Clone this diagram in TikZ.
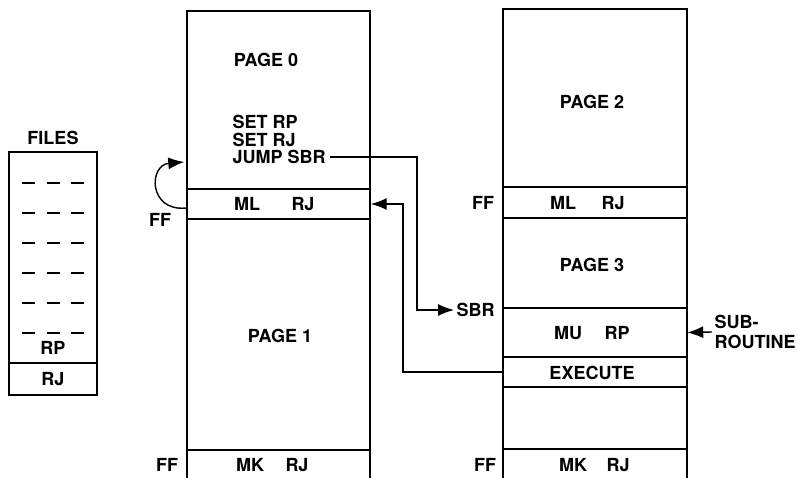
\documentclass[tikz,border=0pt]{standalone}
\usepackage{fontspec}
\setsansfont{TeX Gyre Heros}
\usetikzlibrary{positioning, arrows.meta, calc}

\begin{document}
\begin{tikzpicture}[x=1pt, y=-1pt, line width=1.4pt, inner sep=2pt,
  font=\sffamily\bfseries\fontsize{18}{17}\selectfont,
  flow/.style={-{Latex[length=16pt,width=12pt]}},
  slot/.style={minimum width=183pt, inner sep=0pt}]
  \useasboundingbox (0,0) rectangle (798,478);
  % files
  \draw (9,152) rectangle (97,395);
  \draw (9,363) -- (97,363);
  \foreach \y in {183,213,...,333}
    \foreach \x in {22,47,71} \draw (\x,\y) -- ++(13,0);
  \node (files) at (53,138) {FILES};
  \node (filesrp) at (53,348) {RP};
  \node (filesrj) at (53,379) {RJ};
  % pages 0 and 1
  \draw (187,478) -- (187,11) -- (370,11) -- (370,478);
  \foreach \y in {189,219,450} \draw (187,\y) -- (370,\y);
  \node[slot, minimum height=30pt] (mlA) at (278.5,204) {};
  \node (page0) at (266,60) {PAGE 0};
  \node[anchor=west, inner sep=1pt] (setrp) at (231,122) {SET RP};
  \node[anchor=west, inner sep=1pt] (setrj) at (231,139.5) {SET RJ};
  \node[anchor=west, inner sep=1pt] (jump) at (231,157) {JUMP SBR};
  \node (mlAl) at (247,204) {ML};
  \node (mlAr) at (303,204) {RJ};
  \node (ffA) at (160,220) {FF};
  \node (page1) at (280,336) {PAGE 1};
  \node (ffB) at (167,465) {FF};
  \node (mkAl) at (250,465) {MK};
  \node (mkAr) at (297,465) {RJ};
  % pages 2 and 3
  \draw (503,478) -- (503,9) -- (687,9) -- (687,478);
  \foreach \y in {187,218,308,357,387,449} \draw (503,\y) -- (687,\y);
  \node[slot, minimum height=49pt] (subB) at (595,332.5) {};
  \node[slot, minimum height=30pt] (execB) at (595,372) {};
  \node (page2) at (592,102) {PAGE 2};
  \node (ffC) at (483,203) {FF};
  \node (mlBl) at (563,203) {ML};
  \node (mlBr) at (613,203) {RJ};
  \node (page3) at (592,265) {PAGE 3};
  \node[anchor=west] (sbr) at (454,310) {SBR};
  \node (muBl) at (568,333) {MU};
  \node (muBr) at (617,333) {RP};
  \node (exec) at (592,373) {EXECUTE};
  \node[anchor=west, align=left, font=\sffamily\bfseries\fontsize{18}{20}\selectfont] (subr) at (712,332) {SUB-\\ROUTINE};
  \node (ffD) at (485,465) {FF};
  \node (mkBl) at (573,465) {MK};
  \node (mkBr) at (618,465) {RJ};
  % connectors
  \draw[flow] ($(mlA.west)+(0,4)$) .. controls +(-38,4) and +(-36,3) .. ($(mlA.west)+(-2,-42)$);
  \draw[flow] ($(jump.east)+(3,0)$) -| ($(sbr.west)+(-37,0)$) -- (sbr.west);
  \draw[flow] (execB.west) -- ++(-100,0) |- (mlA.east);
  \draw[flow] (subr.west) -- (subB.east);
\end{tikzpicture}
\end{document}
